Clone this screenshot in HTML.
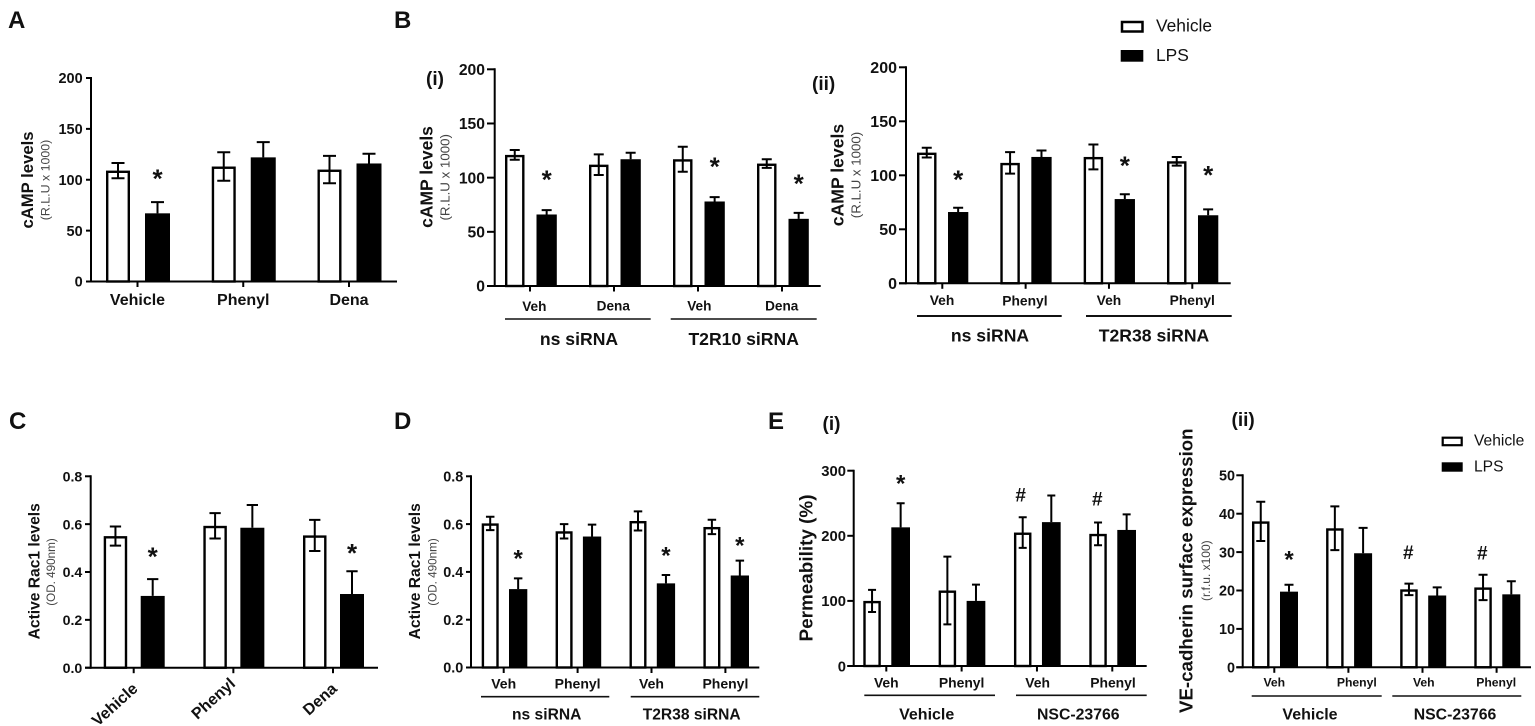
<!DOCTYPE html>
<html lang="en">
<head>
<meta charset="utf-8">
<title>cAMP, Rac1 and permeability bar charts</title>
<style>
html,body{margin:0;padding:0;background:#fff;}
svg{display:block;filter:blur(0.3px);}
text{font-family:"Liberation Sans",sans-serif;fill:#111;}
.b{font-weight:bold;}
.sub{fill:#444;}
.mid{text-anchor:middle;}
</style>
</head>
<body>
<svg id="figure" xmlns="http://www.w3.org/2000/svg" width="1535" height="726" viewBox="0 0 1535 726">
<rect x="0" y="0" width="1535" height="726" fill="#fff"/>

<text class="b" x="8" y="28" font-size="24">A</text>
<text class="b" x="394" y="28" font-size="24">B</text>
<text class="b" x="9" y="429" font-size="24">C</text>
<text class="b" x="394" y="429" font-size="24">D</text>
<text class="b" x="768" y="429" font-size="24">E</text>
<text class="b" x="426" y="85" font-size="19">(i)</text>
<text class="b" x="812" y="90" font-size="19">(ii)</text>
<text class="b" x="822.5" y="430" font-size="19">(i)</text>
<text class="b" x="1231.5" y="426" font-size="19">(ii)</text>

<g>
  <rect x="1122" y="22" width="20.5" height="9.5" fill="#fff" stroke="#000" stroke-width="2.5"/>
  <rect x="1120.7" y="50" width="22.6" height="11.7" fill="#000"/>
  <text x="1156" y="31.7" font-size="17.4">Vehicle</text>
  <text x="1156" y="61" font-size="17.4">LPS</text>
</g>
<g>
  <rect x="1442.7" y="437.7" width="19" height="7.5" fill="#fff" stroke="#000" stroke-width="2.2"/>
  <rect x="1441.7" y="462.3" width="21" height="9.4" fill="#000"/>
  <text x="1474" y="445.7" font-size="15.6">Vehicle</text>
  <text x="1474" y="471.7" font-size="15.6">LPS</text>
</g>

<text class="b mid" transform="translate(33,180) rotate(-90)" font-size="16.7">cAMP levels</text>
<text class="sub mid" transform="translate(49.5,180) rotate(-90)" font-size="12.4">(R.L.U x 1000)</text>
<text class="b mid" transform="translate(432.3,177) rotate(-90)" font-size="17.5">cAMP levels</text>
<text class="sub mid" transform="translate(449.5,177.3) rotate(-90)" font-size="13.3">(R.L.U x 1000)</text>
<text class="b mid" transform="translate(843.3,175) rotate(-90)" font-size="17.6">cAMP levels</text>
<text class="sub mid" transform="translate(860.5,175) rotate(-90)" font-size="13.3">(R.L.U x 1000)</text>
<text class="b mid" transform="translate(39.3,571.3) rotate(-90)" font-size="15.6">Active Rac1 levels</text>
<text class="sub mid" transform="translate(55,572) rotate(-90)" font-size="11.7">(OD. 490nm)</text>
<text class="b mid" transform="translate(420,571.3) rotate(-90)" font-size="15.6">Active Rac1 levels</text>
<text class="sub mid" transform="translate(436.5,572) rotate(-90)" font-size="11.7">(OD. 490nm)</text>
<text class="b mid" transform="translate(812.3,568) rotate(-90)" font-size="18.9">Permeability (%)</text>
<text class="b mid" transform="translate(1192.7,570.7) rotate(-90)" font-size="18.7">VE-cadherin surface expression</text>
<text class="sub mid" transform="translate(1210,570.7) rotate(-90)" font-size="12">(r.f.u. x100)</text>

<g stroke="#111" stroke-width="1.6">
  <line x1="505" x2="650.7" y1="319" y2="319"/>
  <line x1="670.7" x2="816.7" y1="319" y2="319"/>
  <line x1="917" x2="1061.7" y1="316" y2="316" stroke-width="2"/>
  <line x1="1086" x2="1231.7" y1="316" y2="316" stroke-width="2"/>
  <line x1="481" x2="609.3" y1="696.7" y2="696.7"/>
  <line x1="630.7" x2="759.3" y1="696.7" y2="696.7"/>
  <line x1="864.3" x2="995" y1="695.3" y2="695.3"/>
  <line x1="1016" x2="1146.7" y1="695.3" y2="695.3"/>
  <line x1="1251.7" x2="1381.7" y1="696" y2="696"/>
  <line x1="1392.3" x2="1521.3" y1="696" y2="696"/>
</g>

<text class="b mid" x="579" y="345" font-size="17.6">ns siRNA</text>
<text class="b mid" x="743.7" y="345" font-size="17.6">T2R10 siRNA</text>
<text class="b mid" x="990" y="341.7" font-size="17.6">ns siRNA</text>
<text class="b mid" x="1154" y="341.7" font-size="17.6">T2R38 siRNA</text>
<text class="b mid" x="546.7" y="719.3" font-size="15.6">ns siRNA</text>
<text class="b mid" x="691.7" y="719.3" font-size="15.6">T2R38 siRNA</text>
<text class="b mid" x="926.7" y="719.3" font-size="16">Vehicle</text>
<text class="b mid" x="1078.3" y="719.3" font-size="15.8">NSC-23766</text>
<text class="b mid" x="1310" y="719.3" font-size="16">Vehicle</text>
<text class="b mid" x="1455" y="719.3" font-size="15.8">NSC-23766</text>

<g id="plots"></g>
</svg>

<script>
// Panel A
const aCategories = ['Vehicle', 'Phenyl', 'Dena'];
const aVehicle = [109, 113, 110];
const aVehicleErr = [7.5, 14, 13.5];
const aLps = [67, 122, 116];
const aLpsErr = [11, 15, 9.5];
const aTicks = ['0', '50', '100', '150', '200'];

// Panel B (i)
const biCategories = ['Veh', 'Dena', 'Veh', 'Dena'];
const biVehicle = [121, 112, 117, 113];
const biVehicleErr = [4.5, 9.5, 11.5, 4];
const biLps = [66, 117, 78, 62];
const biLpsErr = [4, 6, 4, 5.5];
const biTicks = ['0', '50', '100', '150', '200'];

// Panel B (ii)
const biiCategories = ['Veh', 'Phenyl', 'Veh', 'Phenyl'];
const biiVehicle = [121, 111.5, 117, 113];
const biiVehicleErr = [4.5, 10, 11.5, 4];
const biiLps = [66, 117, 78, 63];
const biiLpsErr = [4, 6, 4.5, 5.5];
const biiTicks = ['0', '50', '100', '150', '200'];

// Panel C
const cCategories = ['Vehicle', 'Phenyl', 'Dena'];
const cVehicle = [0.55, 0.593, 0.553];
const cVehicleErr = [0.04, 0.053, 0.065];
const cLps = [0.30, 0.585, 0.308];
const cLpsErr = [0.07, 0.095, 0.095];
const cTicks = ['0.0', '0.2', '0.4', '0.6', '0.8'];

// Panel D
const dCategories = ['Veh', 'Phenyl', 'Veh', 'Phenyl'];
const dVehicle = [0.603, 0.57, 0.613, 0.588];
const dVehicleErr = [0.028, 0.03, 0.04, 0.03];
const dLps = [0.328, 0.548, 0.352, 0.385];
const dLpsErr = [0.045, 0.05, 0.035, 0.062];
const dTicks = ['0.0', '0.2', '0.4', '0.6', '0.8'];

// Panel E (i)
const eiCategories = ['Veh', 'Phenyl', 'Veh', 'Phenyl'];
const eiVehicle = [100, 116, 205, 203];
const eiVehicleErr = [17, 52, 23.5, 17.5];
const eiLps = [213, 100, 221, 209];
const eiLpsErr = [37, 25, 41, 24];
const eiTicks = ['0', '100', '200', '300'];

// Panel E (ii)
const eiiCategories = ['Veh', 'Phenyl', 'Veh', 'Phenyl'];
const eiiVehicle = [38, 36.2, 20.3, 20.8];
const eiiVehicleErr = [5.1, 5.7, 1.5, 3.3];
const eiiLps = [19.7, 29.7, 18.7, 19];
const eiiLpsErr = [1.8, 6.6, 2.1, 3.4];
const eiiTicks = ['0', '10', '20', '30', '40', '50'];

const SVG_NS = 'http://www.w3.org/2000/svg';
const plots = document.getElementById('plots');

function node(tag, parent, attrs) {
  const el = document.createElementNS(SVG_NS, tag);
  for (const k in attrs) el.setAttribute(k, attrs[k]);
  parent.appendChild(el);
  return el;
}

function drawPanel(p) {
  const g = node('g', plots, {});
  
  

  const yMax = parseFloat(p.ticks[p.ticks.length - 1]);
  const y = v => p.y0 - (v / yMax) * (p.y0 - p.yTop);
  const x = i => p.t0 + p.dt * i;

  const series = {
    vehicle: { vals: p.vehicle, errs: p.vehicleErr, left: p.wL, width: p.wW },
    lps: { vals: p.lps, errs: p.lpsErr, left: p.bL, width: p.bW }
  };

  ['vehicle', 'lps'].forEach(function (key) {
    const s = series[key];
    s.vals.forEach(function (v, i) {
      const lx = x(i) + s.left;
      const top = y(v);
      let bar;
      if (key === 'vehicle') {
        bar = node('rect', g, { x: lx + 1.2, y: top + 1.2, width: s.width - 2.4, height: p.y0 - top - 1.2, fill: '#fff', stroke: '#000', 'stroke-width': 2.4 });
      } else {
        bar = node('rect', g, { x: lx, y: top, width: s.width, height: p.y0 - top, fill: '#000' });
      }
      
      

      const cx = lx + s.width / 2;
      const hi = y(v + s.errs[i]);
      const lo = y(v - s.errs[i]);
      const path = 'M' + cx + ' ' + (key === 'vehicle' ? lo : top) + 'V' + hi +
        'M' + (cx - p.cap / 2) + ' ' + hi + 'H' + (cx + p.cap / 2) +
        (key === 'vehicle' ? 'M' + (cx - p.cap / 2) + ' ' + lo + 'H' + (cx + p.cap / 2) : '');
      const err = node('path', g, { d: path, fill: 'none', stroke: '#000', 'stroke-width': 2 });
      
      
    });
  });

  const yAxis = node('line', g, { x1: p.axisX, x2: p.axisX, y1: p.yTop - 1, y2: p.y0 + 1, stroke: '#000', 'stroke-width': 2 });
  
  
  const xAxis = node('line', g, { x1: p.tickL, x2: p.axisEnd, y1: p.y0, y2: p.y0, stroke: '#000', 'stroke-width': 2 });
  
  

  p.ticks.forEach(function (t) {
    const ty = y(parseFloat(t));
    const tick = node('line', g, { x1: p.tickL, x2: p.axisX, y1: ty, y2: ty, stroke: '#000', 'stroke-width': 2 });
    
    
    const lab = node('text', g, { x: p.tickTextX, y: ty + p.tickSize * 0.36, 'text-anchor': 'end', 'font-size': p.tickSize, 'font-weight': 'bold' });
    lab.textContent = t;
    
    
  });

  p.categories.forEach(function (c, i) {
    const tick = node('line', g, { x1: x(i), x2: x(i), y1: p.y0, y2: p.y0 + 5.5, stroke: '#000', 'stroke-width': 2 });
    
    
    const lab = node('text', g, { 'font-size': p.catSize, 'font-weight': 'bold' });
    if (p.catRotate) {
      lab.setAttribute('text-anchor', 'end');
      lab.setAttribute('transform', 'translate(' + (x(i) + p.catDx[i]) + ',' + p.catY[i] + ') rotate(' + p.catRotate + ')');
    } else {
      lab.setAttribute('text-anchor', 'middle');
      lab.setAttribute('x', x(i) + p.catDx[i]);
      lab.setAttribute('y', p.catY[i]);
    }
    lab.textContent = c;
    
    
  });

  p.marks.forEach(function (m) {
    const s = series[m.series];
    const cx = x(m.group) + s.left + s.width / 2 + (m.dx || 0);
    const cy = y(s.vals[m.group] + s.errs[m.group]) - m.gap;
    const isStar = m.symbol === '*';
    const size = isStar ? p.starSize : 19;
    const mark = node('text', g, { x: cx, y: cy + size * (isStar ? 0.43 : 0.35), 'text-anchor': 'middle', 'font-size': size, 'font-weight': 'bold' });
    mark.textContent = m.symbol;
    
    
  });
}

drawPanel({
  id: 'a', categories: aCategories, vehicle: aVehicle, vehicleErr: aVehicleErr, lps: aLps, lpsErr: aLpsErr, ticks: aTicks,
  axisX: 91, y0: 281.5, yTop: 78, tickL: 86, axisEnd: 397, tickTextX: 82.7, tickSize: 14.5,
  t0: 137.5, dt: 105.75, wL: -31.5, wW: 24, bL: 7.5, bW: 25, cap: 13,
  catSize: 16, catDx: [0, 0, 0], catY: [305, 305, 305], starSize: 26,
  marks: [{ group: 0, series: 'lps', symbol: '*', gap: 26 }]
});
drawPanel({
  id: 'b-i', categories: biCategories, vehicle: biVehicle, vehicleErr: biVehicleErr, lps: biLps, lpsErr: biLpsErr, ticks: biTicks,
  axisX: 494.7, y0: 286, yTop: 69.3, tickL: 487, axisEnd: 820.7, tickTextX: 485, tickSize: 15.7,
  t0: 530, dt: 84, wL: -25, wW: 19.5, bL: 6.5, bW: 20.3, cap: 10,
  catSize: 13.6, catDx: [4.3, -0.7, 1.3, -0.3], catY: [311, 310.7, 310.7, 310.7], starSize: 26,
  marks: [
    { group: 0, series: 'lps', symbol: '*', gap: 32.6 },
    { group: 2, series: 'lps', symbol: '*', gap: 33 },
    { group: 3, series: 'lps', symbol: '*', gap: 31.6 }
  ]
});
drawPanel({
  id: 'b-ii', categories: biiCategories, vehicle: biiVehicle, vehicleErr: biiVehicleErr, lps: biiLps, lpsErr: biiLpsErr, ticks: biiTicks,
  axisX: 906, y0: 283.3, yTop: 67.3, tickL: 899, axisEnd: 1230.7, tickTextX: 897, tickSize: 16,
  t0: 942.3, dt: 83.33, wL: -25.3, wW: 19.5, bL: 5.7, bW: 20.3, cap: 10,
  catSize: 13.8, catDx: [-0.3, -0.7, 0, 0], catY: [305, 305.5, 305, 305], starSize: 26,
  marks: [
    { group: 0, series: 'lps', symbol: '*', gap: 30.6 },
    { group: 2, series: 'lps', symbol: '*', gap: 31 },
    { group: 3, series: 'lps', symbol: '*', gap: 36.7 }
  ]
});
drawPanel({
  id: 'c', categories: cCategories, vehicle: cVehicle, vehicleErr: cVehicleErr, lps: cLps, lpsErr: cLpsErr, ticks: cTicks,
  axisX: 90.7, y0: 667.7, yTop: 476.3, tickL: 85, axisEnd: 378, tickTextX: 82.3, tickSize: 14.2,
  t0: 133.7, dt: 99.65, wL: -30, wW: 23.5, bL: 7, bW: 24, cap: 11.3,
  catSize: 16, catRotate: -42, catDx: [5, 3, 5], catY: [690, 685, 690], starSize: 26,
  marks: [
    { group: 0, series: 'lps', symbol: '*', gap: 24.7 },
    { group: 2, series: 'lps', symbol: '*', gap: 20.7 }
  ]
});
drawPanel({
  id: 'd', categories: dCategories, vehicle: dVehicle, vehicleErr: dVehicleErr, lps: dLps, lpsErr: dLpsErr, ticks: dTicks,
  axisX: 471, y0: 667.5, yTop: 476.3, tickL: 466, axisEnd: 759.3, tickTextX: 463.3, tickSize: 14.4,
  t0: 503.7, dt: 73.9, wL: -22, wW: 17, bL: 5.3, bW: 18.3, cap: 8.5,
  catSize: 14, catDx: [0, 0, 0, 0], catY: [688.3, 688.3, 688.3, 688.3], starSize: 24,
  marks: [
    { group: 0, series: 'lps', symbol: '*', gap: 22.3 },
    { group: 2, series: 'lps', symbol: '*', gap: 21.7 },
    { group: 3, series: 'lps', symbol: '*', gap: 17.4 }
  ]
});
drawPanel({
  id: 'e-i', categories: eiCategories, vehicle: eiVehicle, vehicleErr: eiVehicleErr, lps: eiLps, lpsErr: eiLpsErr, ticks: eiTicks,
  axisX: 853.7, y0: 666, yTop: 470.7, tickL: 847.3, axisEnd: 1146.7, tickTextX: 846, tickSize: 14.8,
  t0: 886.3, dt: 75.33, wL: -23, wW: 17.5, bL: 5, bW: 18.7, cap: 8,
  catSize: 13.9, catDx: [0, 0, 0.7, 0.7], catY: [687.7, 687.7, 687.7, 687.7], starSize: 24,
  marks: [
    { group: 0, series: 'lps', symbol: '*', gap: 22 },
    { group: 2, series: 'vehicle', symbol: '#', gap: 22.3, dx: -2 },
    { group: 3, series: 'vehicle', symbol: '#', gap: 23.6, dx: -0.7 }
  ]
});
drawPanel({
  id: 'e-ii', categories: eiiCategories, vehicle: eiiVehicle, vehicleErr: eiiVehicleErr, lps: eiiLps, lpsErr: eiiLpsErr, ticks: eiiTicks,
  axisX: 1242.7, y0: 667.3, yTop: 475.3, tickL: 1236.3, axisEnd: 1531, tickTextX: 1235, tickSize: 14.4,
  t0: 1274.3, dt: 74.1, wL: -22.3, wW: 17.5, bL: 5.7, bW: 18, cap: 9,
  catSize: 12.2, catDx: [0, 8.4, 1.3, -0.4], catY: [686.7, 686.7, 686.7, 686.7], starSize: 24,
  marks: [
    { group: 0, series: 'lps', symbol: '*', gap: 27.4 },
    { group: 2, series: 'vehicle', symbol: '#', gap: 31, dx: -0.7 },
    { group: 3, series: 'vehicle', symbol: '#', gap: 22, dx: -0.7 }
  ]
});
</script>
</body>
</html>
